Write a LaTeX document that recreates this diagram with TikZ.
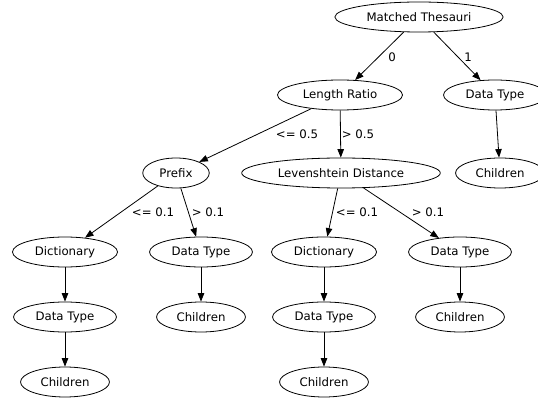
\documentclass[tikz,border=0pt]{standalone}
\usepackage{fontspec}
\setmainfont{DejaVu Sans}
\usetikzlibrary{shapes.geometric,arrows.meta}
\begin{document}
\begin{tikzpicture}[x=1pt,y=-1pt,
  every node/.style={font=\fontsize{11.75}{14}\selectfont},
  tnode/.style={ellipse,draw,line width=0.8pt,inner xsep=7pt,inner ysep=1pt,minimum height=30pt},
  conn/.style={draw,line width=0.8pt,-{Triangle[length=8.5pt,width=6.5pt]}},
  elabel/.style={inner sep=0pt}]
\useasboundingbox (0,0) rectangle (538,403);
\clip (0,0) rectangle (538,403);
% rank 1
\node[tnode] (mt)  at (419,17)  {Matched Thesauri};
% rank 2
\node[tnode] (lr)  at (340,95)  {Length Ratio};
\node[tnode] (dt1) at (495,95)  {Data Type};
% rank 3
\node[tnode] (pf)  at (176,173) {Prefix};
\node[tnode] (lv)  at (341,173) {Levenshtein Distance};
\node[tnode] (ch1) at (500,173) {Children};
% rank 4
\node[tnode] (dc1) at (65,252)  {Dictionary};
\node[tnode] (dt2) at (201,252) {Data Type};
\node[tnode] (dc2) at (324,252) {Dictionary};
\node[tnode] (dt3) at (460,252) {Data Type};
% rank 5
\node[tnode] (dt4) at (65,317)  {Data Type};
\node[tnode] (ch2) at (201,317) {Children};
\node[tnode] (dt5) at (324,317) {Data Type};
\node[tnode] (ch3) at (460,317) {Children};
% rank 6
\node[tnode] (ch4) at (65,382)  {Children};
\node[tnode] (ch5) at (324,382) {Children};
% connectors
\path[conn] (mt) -- (lr) node[elabel] at (392,57) {0};
\path[conn] (mt) -- (dt1) node[elabel] at (468,57) {1};
\path[conn] (lr) -- (pf) node[elabel] at (297,134) {<= 0.5};
\path[conn] (lr) -- (lv) node[elabel] at (358,134) {> 0.5};
\path[conn] (dt1) -- (ch1);
\path[conn] (pf) -- (dc1) node[elabel] at (153,212) {<= 0.1};
\path[conn] (pf) -- (dt2) node[elabel] at (208,212) {> 0.1};
\path[conn] (lv) -- (dc2) node[elabel] at (357,212) {<= 0.1};
\path[conn] (lv) -- (dt3) node[elabel] at (428,212) {> 0.1};
\path[conn] (dc1) -- (dt4);
\path[conn] (dt4) -- (ch4);
\path[conn] (dt2) -- (ch2);
\path[conn] (dc2) -- (dt5);
\path[conn] (dt5) -- (ch5);
\path[conn] (dt3) -- (ch3);
\end{tikzpicture}
\end{document}
